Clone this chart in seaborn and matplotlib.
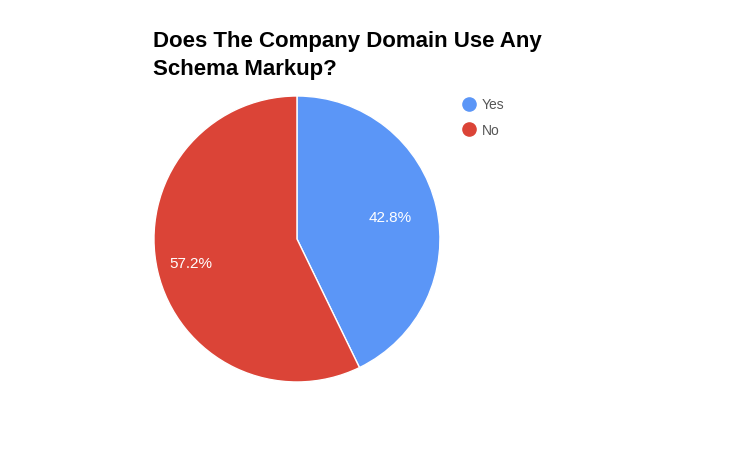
import numpy as np
import matplotlib
matplotlib.use('Agg')
import matplotlib.pyplot as plt
import seaborn as sns
from matplotlib.lines import Line2D

# data
labels = ['Yes', 'No']
shares = [42.8, 57.2]
colors = ['#5b96f7', '#db4437']

sns.set_theme(style='white')
plt.rcParams['font.family'] = ['Liberation Sans', 'DejaVu Sans']

fig = plt.figure(figsize=(7.5, 4.64), dpi=100)
ax = fig.add_axes([0.2053, 0.1746, 0.3813, 0.6164])

wedges, texts, autotexts = ax.pie(
    shares, colors=colors, startangle=90, counterclock=False,
    autopct='%1.1f%%', pctdistance=0.7,
    wedgeprops={'edgecolor': 'white', 'linewidth': 1},
    textprops={'color': 'white', 'fontsize': 11})
# nudge label distance like the original
for t, k in zip(autotexts, [0.96, 1.09]):
    x, y = t.get_position()
    t.set_position((x * k, y * k))
ax.set_xlim(-1, 1)
ax.set_ylim(-1, 1)
ax.set_aspect('equal')

fig.text(153 / 750, 1 - 31 / 464, 'Does The Company Domain Use Any\nSchema Markup?',
         fontsize=16, fontweight='bold', color='black', va='top', ha='left',
         linespacing=1.42)

handles = [Line2D([0], [0], marker='o', linestyle='', markersize=9.5,
                  markerfacecolor=c, markeredgecolor=c) for c in colors]
leg = fig.legend(handles, labels, loc='upper left',
                 bbox_to_anchor=(448 / 750, 1 - 86 / 464), frameon=False,
                 fontsize=10, handletextpad=0.35, labelspacing=0.8,
                 handlelength=1.2)
for t in leg.get_texts():
    t.set_color('#555555')

fig.savefig('out.png', dpi=100)
